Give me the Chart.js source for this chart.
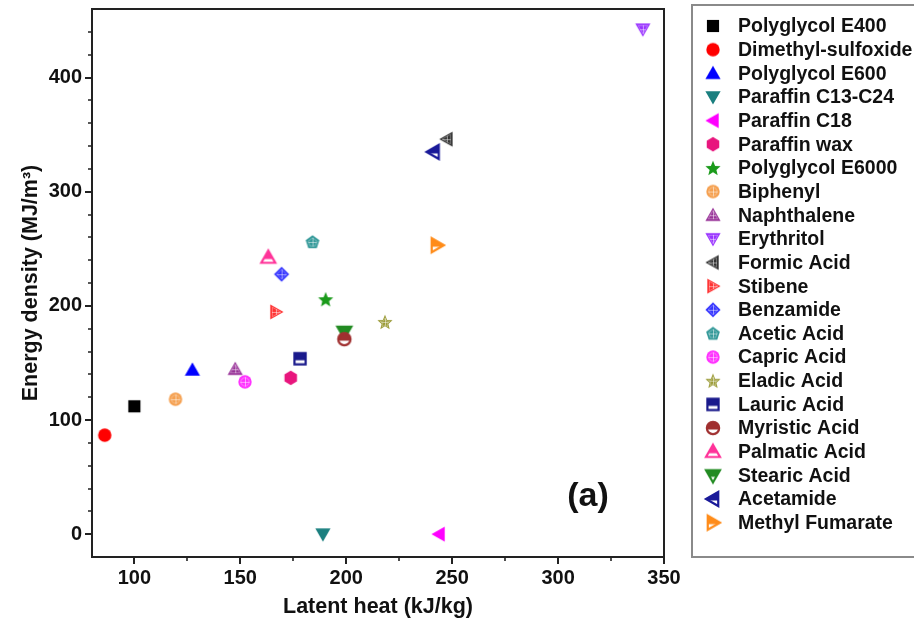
<!DOCTYPE html>
<html><head><meta charset="utf-8">
<script src="https://cdn.jsdelivr.net/npm/chart.js@4.4.1/dist/chart.umd.min.js"></script>
<style>html,body{margin:0;padding:0;background:#fff;overflow:hidden}</style>
</head><body>
<canvas id="c" width="914" height="628" style="display:block;width:914px;height:628px"></canvas>
<script>
// ---- data ----
const materials = ['Polyglycol E400','Dimethyl-sulfoxide','Polyglycol E600','Paraffin C13-C24','Paraffin C18','Paraffin wax','Polyglycol E6000','Biphenyl','Naphthalene','Erythritol','Formic Acid','Stibene','Benzamide','Acetic Acid','Capric Acid','Eladic Acid','Lauric Acid','Myristic Acid','Palmatic Acid','Stearic Acid','Acetamide','Methyl Fumarate'];
const latentHeat    = [100, 86, 127.4, 189, 243.8, 173.8, 190.3, 119.4, 147.6, 340, 247.5, 166.8, 169.5, 184.1, 152.2, 218.3, 178.2, 199.1, 163.2, 199.1, 241.2, 242.8];
const energyDensity = [112, 86.7, 143.9, 0, 0, 136.9, 205.8, 118.2, 144.5, 442.3, 346, 194.7, 227.7, 256, 133.4, 185.9, 153.7, 170.8, 242.3, 177.2, 334.8, 253.1];
const markerShapes = ['square','circle','triUp','triDown','triLeft','hexagon','star','circle','triUp','triDown','triLeft','triRight','diamond','pentagon','circle','star','square','circle','triUp','triDown','triLeft','triRight'];
const markerFills  = ['solid','solid','solid','solid','solid','solid','solid','cross','cross','cross','cross','cross','cross','cross','cross','cross','half','half','half','half','half','half'];
const markerColors = ['#000000','#ff0000','#0000ff','#1a7f7f','#ff00ff','#e8157d','#1a9a1a','#f5a050','#993399','#9933ff','#333333','#ff3333','#3333ff','#339999','#ff33ff','#999933','#1a1a8c','#a03030','#ff3399','#228b22','#1a1a99','#ff8c1a'];
const xTicks = [100,150,200,250,300,350];
const yTicks = [0,100,200,300,400];
const xMinorTicks = [125,175,225,275,325];
const yMinorTicks = [20,40,60,80,120,140,160,180,220,240,260,280,320,340,360,380,420,440];

const FONT = '"Liberation Sans", Arial, sans-serif';

function shapePath(c, shape, s){
  c.beginPath();
  switch(shape){
    case 'square': c.rect(-s*0.8,-s*0.8,s*1.6,s*1.6); break;
    case 'circle': c.arc(0,0,s*0.88,0,Math.PI*2); break;
    case 'triUp': c.moveTo(0,-s); c.lineTo(s,s*0.75); c.lineTo(-s,s*0.75); c.closePath(); break;
    case 'triDown': c.moveTo(0,s); c.lineTo(s,-s*0.75); c.lineTo(-s,-s*0.75); c.closePath(); break;
    case 'triLeft': c.moveTo(-s,0); c.lineTo(s*0.75,-s); c.lineTo(s*0.75,s); c.closePath(); break;
    case 'triRight': c.moveTo(s,0); c.lineTo(-s*0.75,-s); c.lineTo(-s*0.75,s); c.closePath(); break;
    case 'diamond': c.moveTo(0,-s); c.lineTo(s,0); c.lineTo(0,s); c.lineTo(-s,0); c.closePath(); break;
    case 'hexagon': for(let k=0;k<6;k++){const a=Math.PI/6+k*Math.PI/3; const px=Math.cos(a)*s*0.95, py=Math.sin(a)*s*0.95; k?c.lineTo(px,py):c.moveTo(px,py);} c.closePath(); break;
    case 'pentagon': for(let k=0;k<5;k++){const a=-Math.PI/2+k*2*Math.PI/5; const px=Math.cos(a)*s*0.95, py=Math.sin(a)*s*0.95+0.5; k?c.lineTo(px,py):c.moveTo(px,py);} c.closePath(); break;
    case 'star': for(let k=0;k<10;k++){const a=-Math.PI/2+k*Math.PI/5; const r=k%2?s*0.47:s*1.05; const px=Math.cos(a)*r, py=Math.sin(a)*r+0.8; k?c.lineTo(px,py):c.moveTo(px,py);} c.closePath(); break;
  }
}
function makeMarker(shape, fill, color){
  const cv = document.createElement('canvas'); cv.width = 20; cv.height = 20;
  const c = cv.getContext('2d'); c.translate(10,10);
  const s = 7.6;
  if (fill === 'solid'){
    shapePath(c, shape, s); c.fillStyle = color; c.fill();
  } else if (fill === 'cross'){
    shapePath(c, shape, s); c.fillStyle = color; c.fill();
    c.save(); shapePath(c, shape, s*0.7); c.clip();
    c.strokeStyle = 'rgba(255,255,255,0.5)'; c.lineWidth = 1;
    c.beginPath(); c.moveTo(-10,0.5); c.lineTo(10,0.5); c.moveTo(0.5,-10); c.lineTo(0.5,10); c.stroke();
    c.restore();
    shapePath(c, shape, s*0.62); c.strokeStyle = 'rgba(255,255,255,0.3)'; c.lineWidth = 1; c.stroke();
  } else {
    shapePath(c, shape, s*0.92); c.fillStyle = '#fff'; c.fill();
    c.save(); shapePath(c, shape, s*0.92); c.clip(); c.fillStyle = color; c.fillRect(-10,-10,20,11.5); c.restore();
    shapePath(c, shape, s*0.92); c.strokeStyle = color; c.lineWidth = 2.2; c.stroke();
  }
  return cv;
}
const markerImgs = materials.map((m,i)=>makeMarker(markerShapes[i], markerFills[i], markerColors[i]));

const framePlugin = {
  id: 'frame',
  afterDraw(chart){
    const {ctx, chartArea:a, scales:{x, y}} = chart;
    ctx.save();
    ctx.strokeStyle = '#222'; ctx.lineWidth = 2;
    ctx.strokeRect(a.left, a.top, a.right-a.left, a.bottom-a.top);
    ctx.lineWidth = 1.6; ctx.beginPath();
    xMinorTicks.forEach(v=>{const px = Math.round(x.getPixelForValue(v)); ctx.moveTo(px, a.bottom); ctx.lineTo(px, a.bottom+4);});
    yMinorTicks.forEach(v=>{const py = Math.round(y.getPixelForValue(v)); ctx.moveTo(a.left, py); ctx.lineTo(a.left-4, py);});
    ctx.stroke();
    // panel label
    ctx.fillStyle = '#111'; ctx.font = 'bold 34px ' + FONT; ctx.textAlign = 'center'; ctx.textBaseline = 'middle';
    ctx.fillText('(a)', 588, 497);
    // legend
    ctx.strokeStyle = '#8a8a8a'; ctx.lineWidth = 2;
    ctx.strokeRect(692, 5, 260, 552);
    ctx.font = 'bold 19.5px ' + FONT; ctx.textAlign = 'left'; ctx.textBaseline = 'middle'; ctx.fillStyle = '#111';
    chart.data.datasets.forEach((ds, i)=>{
      const cy = 26 + 23.65*i;
      const img = ds.pointStyle;
      ctx.drawImage(img, 713 - img.width/2, cy - img.height/2);
      ctx.fillText(ds.label, 738, cy + 1);
    });
    ctx.restore();
  }
};

const tickFont = {family: FONT, size: 20, weight: 'bold'};
const titleFont = {family: FONT, size: 21.5, weight: 'bold'};
const gridOpts = {drawOnChartArea:false, drawTicks:true, tickLength:7, tickWidth:2, tickColor:'#222', lineWidth:2, color:'#222'};

new Chart(document.getElementById('c'), {
  type: 'scatter',
  data: {
    datasets: materials.map((m,i)=>({
      label: m,
      data: [{x: latentHeat[i], y: energyDensity[i]}],
      pointStyle: markerImgs[i],
      pointRadius: 7, pointHoverRadius: 7
    }))
  },
  options: {
    responsive: false, animation: false, devicePixelRatio: 1,
    layout: {padding: {left: 0, right: 250, top: 9, bottom: 0}},
    plugins: {legend: {display: false}, tooltip: {enabled: false}},
    events: [],
    scales: {
      x: {
        type: 'linear', min: 80, max: 350,
        afterBuildTicks: s => { s.ticks = xTicks.map(v=>({value:v})); },
        afterFit: s => { s.height = 71; s.paddingLeft = 0; s.paddingRight = 0; },
        grid: gridOpts, border: {display: false},
        ticks: {font: tickFont, color: '#111', padding: 2, maxRotation: 0, autoSkip: false},
        title: {display: true, text: 'Latent heat (kJ/kg)', font: titleFont, color: '#111', padding: {top: 0, bottom: 8}}
      },
      y: {
        type: 'linear', min: -20, max: 460,
        afterBuildTicks: s => { s.ticks = yTicks.map(v=>({value:v})); },
        afterFit: s => { s.width = 92; s.paddingTop = 0; s.paddingBottom = 0; },
        grid: gridOpts, border: {display: false},
        ticks: {font: tickFont, color: '#111', padding: 3, autoSkip: false},
        title: {display: true, text: 'Energy density (MJ/m³)', font: titleFont, color: '#111', padding: {top: 18, bottom: 0}}
      }
    }
  },
  plugins: [framePlugin]
});
</script>
</body></html>
